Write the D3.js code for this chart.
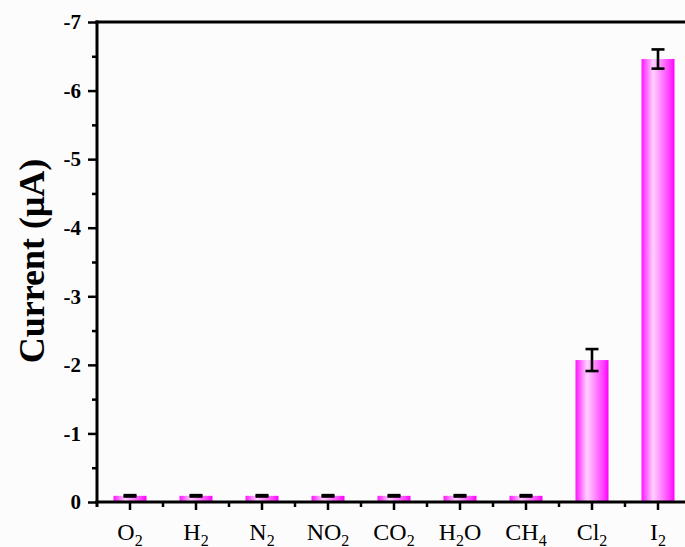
<!DOCTYPE html>
<html>
<head>
<meta charset="utf-8">
<script src="https://cdn.jsdelivr.net/npm/d3@7/dist/d3.min.js"></script>
<style>
  html, body { margin: 0; padding: 0; background: #fdfcfd; }
  svg { display: block; }
  .serif { font-family: "Liberation Serif", "Times New Roman", serif; }
</style>
</head>
<body>
<svg id="chart" width="685" height="547"></svg>
<script>
// gases on the x axis (digits are drawn as subscripts)
var gases = ['O2', 'H2', 'N2', 'NO2', 'CO2', 'H2O', 'CH4', 'Cl2', 'I2'];
// measured current, uA
var current = [-0.09, -0.09, -0.09, -0.09, -0.09, -0.09, -0.09, -2.07, -6.46];
var errors = [0.01, 0.01, 0.01, 0.01, 0.01, 0.01, 0.01, 0.16, 0.14];
var yTicks = [0, -1, -2, -3, -4, -5, -6, -7];
var yMinor = [-0.5, -1.5, -2.5, -3.5, -4.5, -5.5, -6.5];

var plotLeft = 97, plotTop = 22, plotBottom = 502, plotRight = 691;

var svg = d3.select('#chart');

var x = d3.scaleBand()
	.domain(gases)
	.range([plotLeft, plotRight])
	.paddingInner(0.5)
	.paddingOuter(0.25);

var y = d3.scaleLinear()
	.domain([0, -7])
	.range([plotBottom, plotTop]);

// bar gradient, magenta edges with a pale centre
var grad = svg.append('defs').append('linearGradient')
	.attr('id', 'barFill')
	.attr('x1', '0%').attr('x2', '100%').attr('y1', '0%').attr('y2', '0%');
grad.append('stop').attr('offset', '0%').attr('stop-color', '#ff14ff');
grad.append('stop').attr('offset', '35%').attr('stop-color', '#ffd2ff');
grad.append('stop').attr('offset', '85%').attr('stop-color', '#ff3cff');
grad.append('stop').attr('offset', '100%').attr('stop-color', '#ff00ff');

var rows = gases.map(function(g, i) {
	return { gas: g, value: current[i], err: errors[i] };
});

// bars
svg.append('g').selectAll('rect')
	.data(rows)
	.enter()
		.append('rect')
		.attr('x', function(d) { return x(d.gas); })
		.attr('width', x.bandwidth())
		.attr('y', function(d) { return y(d.value); })
		.attr('height', function(d) { return y(0) - y(d.value); })
		.attr('fill', 'url(#barFill)');

// error bars
var eb = svg.append('g').attr('stroke', '#000').attr('stroke-width', 2.6);
var cx = function(d) { return x(d.gas) + x.bandwidth() / 2; };
var capW = 6.5;

eb.selectAll('.stem').data(rows).enter()
	.append('line')
	.attr('x1', cx).attr('x2', cx)
	.attr('y1', function(d) { return y(d.value - d.err); })
	.attr('y2', function(d) { return y(d.value + d.err); });

eb.selectAll('.capTop').data(rows).enter()
	.append('line')
	.attr('x1', function(d) { return cx(d) - capW; })
	.attr('x2', function(d) { return cx(d) + capW; })
	.attr('y1', function(d) { return y(d.value - d.err); })
	.attr('y2', function(d) { return y(d.value - d.err); });

eb.selectAll('.capBot').data(rows).enter()
	.append('line')
	.attr('x1', function(d) { return cx(d) - capW; })
	.attr('x2', function(d) { return cx(d) + capW; })
	.attr('y1', function(d) { return y(d.value + d.err); })
	.attr('y2', function(d) { return y(d.value + d.err); });

// y axis
var yAxis = svg.append('g')
	.attr('transform', 'translate(' + plotLeft + ',0)')
	.call(d3.axisLeft(y).tickValues(yTicks).tickSize(9).tickSizeOuter(0).tickPadding(7)
		.tickFormat(function(d) { return String(d); }));

svg.append('g')
	.attr('transform', 'translate(' + plotLeft + ',0)')
	.call(d3.axisLeft(y).tickValues(yMinor).tickSize(5).tickFormat(''))
	.select('.domain').remove();

yAxis.select('.domain').attr('d', 'M0,' + (plotTop - 1.5) + 'V' + (plotBottom + 5));

yAxis.selectAll('text')
	.attr('class', 'serif')
	.style('font-size', '21px')
	.style('font-weight', 'bold')
	.attr('fill', '#000');

// x axis
var xAxis = svg.append('g')
	.attr('transform', 'translate(0,' + plotBottom + ')')
	.call(d3.axisBottom(x).tickSize(8).tickSizeOuter(0).tickFormat(''));

xAxis.select('.domain').attr('d', 'M' + (plotLeft - 1.5) + ',0H685');

svg.append('g')
	.attr('transform', 'translate(0,' + plotBottom + ')')
	.selectAll('line')
	.data(gases)
	.enter()
		.append('line')
		.attr('x1', function(d) { return x(d) + x.bandwidth() + x.step() * 0.25; })
		.attr('x2', function(d) { return x(d) + x.bandwidth() + x.step() * 0.25; })
		.attr('y1', 0).attr('y2', 5)
		.attr('stroke', '#000').attr('stroke-width', 2.5);

[yAxis, xAxis].forEach(function(a) {
	a.select('.domain').attr('stroke-width', 3);
});
svg.selectAll('.tick line').attr('stroke-width', 2.5);

// top frame line
svg.append('line')
	.attr('x1', plotLeft - 1.5).attr('x2', 685)
	.attr('y1', plotTop).attr('y2', plotTop)
	.attr('stroke', '#000').attr('stroke-width', 3);

// category labels with subscripts
var labels = svg.append('g').attr('class', 'serif')
	.selectAll('text')
	.data(gases)
	.enter()
		.append('text')
		.attr('x', function(d) { return x(d) + x.bandwidth() / 2; })
		.attr('y', 540)
		.attr('text-anchor', 'middle')
		.style('font-size', '24px')
		.attr('fill', '#000');

labels.each(function(d) {
	var t = d3.select(this);
	d.match(/[A-Za-z]+|\d+/g).forEach(function(part) {
		if (/\d/.test(part)) {
			t.append('tspan').text(part)
				.style('font-size', '16px')
				.attr('dy', 6);
		} else {
			var s = t.append('tspan').text(part);
			if (t.selectAll('tspan').size() > 1) s.attr('dy', -6);
		}
	});
});

// y title
svg.append('text')
	.attr('class', 'serif')
	.attr('transform', 'translate(44,261) rotate(-90)')
	.attr('text-anchor', 'middle')
	.style('font-size', '36px')
	.style('font-weight', 'bold')
	.attr('fill', '#000')
	.text('Current (\u03bcA)');
</script>
</body>
</html>
